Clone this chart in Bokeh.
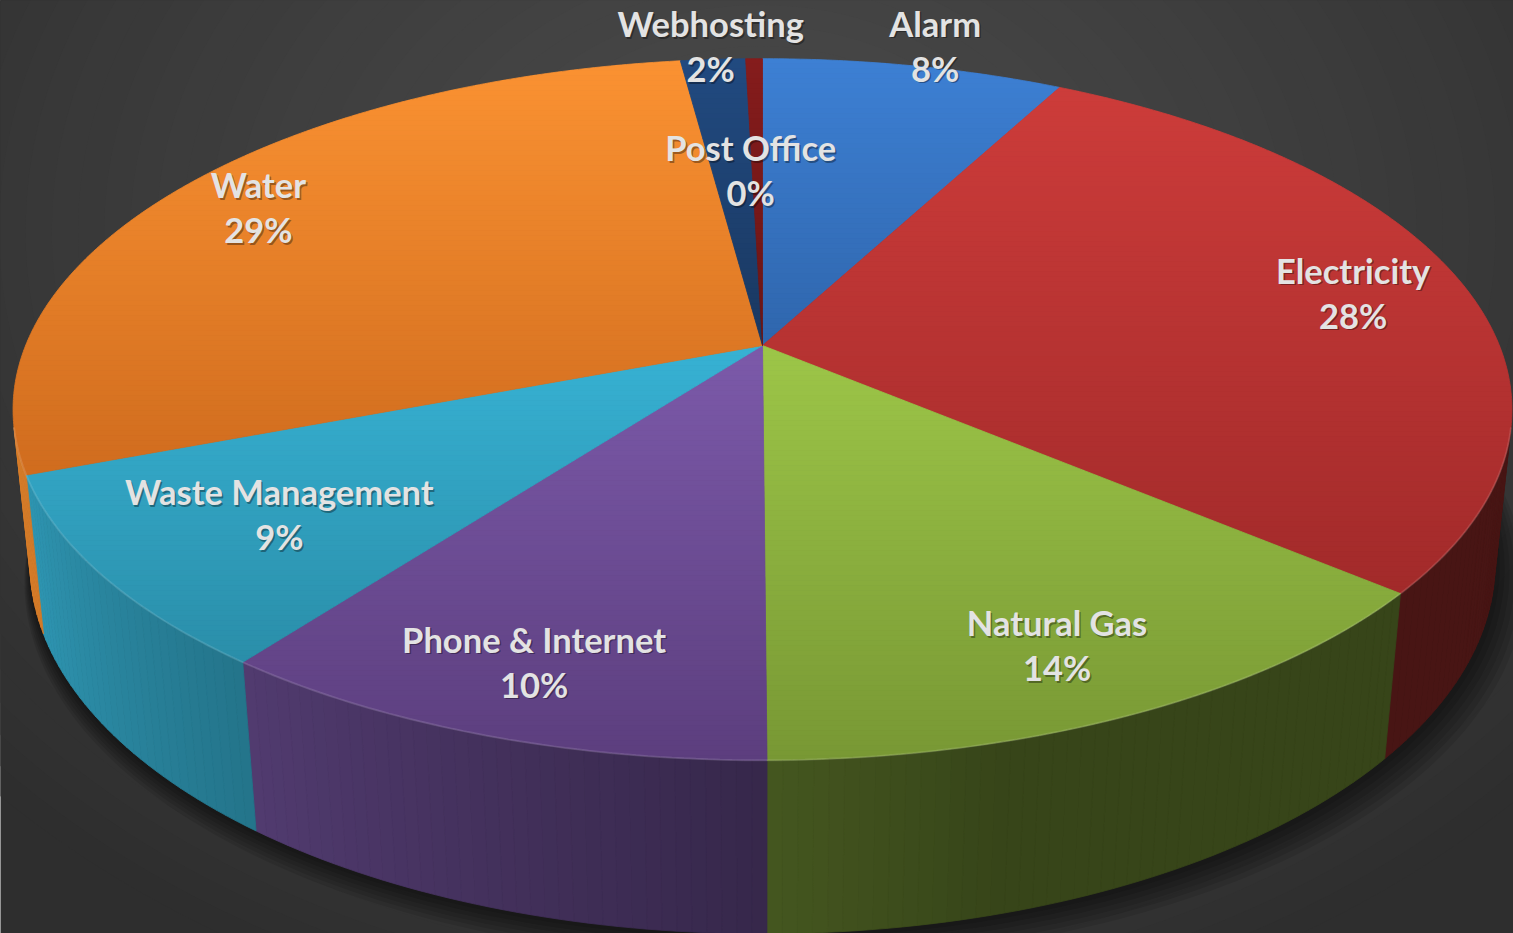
import math
import numpy as np
from bokeh.plotting import figure
from bokeh.models import Range1d
from bokeh.core.properties import value
from bokeh.embed import file_html
from bokeh.resources import INLINE

# ---------------- data ----------------
categories = ["Alarm", "Electricity", "Natural Gas", "Phone & Internet",
              "Waste Management", "Water", "Webhosting", "Post Office"]
shares = [7.75, 28.4, 13.75, 10.37, 8.89, 28.7, 1.67, 0.43]

# ---------------- styles ----------------
light_colors = ["#3d80d4", "#cd3c3a", "#9dc648", "#7c5aaa",
                "#37b2d4", "#fb9232", "#214a80", "#851c1c"]
dark_colors = ["#2f66ad", "#a22a2a", "#789834", "#5c3e7e",
               "#2a8ea9", "#d06c1e", "#1a3861", "#6a1515"]
label_radius = [1.09, 0.84, 0.835, 0.84, 0.755, 0.86, 1.055, 0.57]
label_turn = [0.9, 0.0, 0.7, 0.0, -0.3, 0.0, 0.0, -1.0]

total = sum(shares)
pct_labels = [f"{round(100 * s / total)}%" for s in shares]

# ---------------- perspective camera ----------------
F = 3588.0
L = 4.869
PHI = math.radians(27.4)
H = 0.237
CX, CY = 762.0, 345.0


def proj(theta_deg, r, z):
    t = np.radians(theta_deg)
    X = r * np.sin(t)
    D = -r * np.cos(t)
    up = -D * math.sin(PHI) + z * math.cos(PHI)
    depth = L - (D * math.cos(PHI) + z * math.sin(PHI))
    return CX + F * X / depth, CY - F * up / depth


def hex2rgb(h):
    return tuple(int(h[i:i + 2], 16) for i in (1, 3, 5))


def rgb2hex(c):
    return "#%02x%02x%02x" % tuple(int(max(0, min(255, round(v)))) for v in c)


def mix(a, b, t):
    return tuple(a[i] + (b[i] - a[i]) * t for i in range(3))


def clip_band(pts, y_lo, y_hi):
    def clip(pts, keep, yv):
        out = []
        n = len(pts)
        for i in range(n):
            cur = pts[i]
            prev = pts[i - 1]
            cin, pin = keep(cur), keep(prev)
            if cin:
                if not pin:
                    t = (yv - prev[1]) / (cur[1] - prev[1])
                    out.append((prev[0] + t * (cur[0] - prev[0]), yv))
                out.append(cur)
            elif pin:
                t = (yv - prev[1]) / (cur[1] - prev[1])
                out.append((prev[0] + t * (cur[0] - prev[0]), yv))
        return out
    pts = clip(pts, lambda q: q[1] >= y_lo, y_lo)
    if len(pts) < 3:
        return None
    pts = clip(pts, lambda q: q[1] <= y_hi, y_hi)
    return pts if len(pts) >= 3 else None


W, HH = 1513, 933
p = figure(width=W, height=HH, x_range=Range1d(0, W), y_range=Range1d(HH, 0),
           output_backend="svg", toolbar_location=None, min_border=0,
           x_axis_location=None, y_axis_location=None)
p.grid.visible = False
p.outline_line_color = None
p.background_fill_color = "#2e2e2e"
p.border_fill_color = "#2e2e2e"

# ---------------- background radial gradient ----------------
nlev = 40
bx, by, bw, bh, bc = [], [], [], [], []
for k in range(nlev):
    t = 1.0 - k / nlev
    g = 0x4a - (0x4a - 0x2e) * min(t, 1.0) ** 1.2
    bx.append(760)
    by.append(230)
    bw.append(2 * 1050 * t)
    bh.append(2 * 820 * t)
    bc.append(rgb2hex((g, g, g)))
p.ellipse(x=bx, y=by, width=bw, height=bh, fill_color=bc, line_color=None)

# ---------------- shadow ----------------
ring = np.linspace(0, 360, 361)
sx_b, sy_b = proj(ring, 1.0, -H)
mx, my = float(np.mean(sx_b)), float(np.mean(sy_b))
for k in range(7):
    f = 1.0 + 0.004 * k
    p.patch(list(mx + (sx_b - mx) * f + 2 * k), list(my + (sy_b - my) * f + 3 * k),
            fill_color="black", fill_alpha=0.10, line_color=None)

cum = np.concatenate([[0.0], np.cumsum(shares)]) / total * 360.0

# ---------------- side walls ----------------
tv = math.degrees(math.acos(-1.0 / (L * math.cos(PHI))))
vis_lo, vis_hi = tv, 360.0 - tv


def side_shade(th):
    return max(0.35, min(0.85, 0.41 + 0.0058 * (th - 175.0)))


qx, qy, qc = [], [], []
for i in range(len(shares)):
    a0, a1 = cum[i], cum[i + 1]
    lo, hi = max(a0, vis_lo), min(a1, vis_hi)
    if hi <= lo:
        continue
    n = max(1, int(math.ceil((hi - lo) / 1.0)))
    ths = np.linspace(lo, hi, n + 1)
    base = hex2rgb(light_colors[i])
    for j in range(n):
        t0, t1 = ths[j], ths[j + 1]
        x0, y0 = proj(t0, 1.0, 0.0)
        x1, y1 = proj(t1, 1.0, 0.0)
        x2, y2 = proj(t1, 1.0, -H)
        x3, y3 = proj(t0, 1.0, -H)
        s = side_shade(0.5 * (t0 + t1))
        c = rgb2hex(tuple(v * s for v in base))
        qx.append([x0, x1, x2, x3])
        qy.append([y0, y1, y2, y3])
        qc.append(c)
p.patches(xs=qx, ys=qy, fill_color=qc, line_color=qc, line_width=0.8)

# ---------------- top faces with vertical gradient ----------------
tx, ty, tc = [], [], []
band = 5.0
for i in range(len(shares)):
    a0, a1 = cum[i], cum[i + 1]
    n = max(2, int(math.ceil((a1 - a0) / 0.5)))
    ths = np.linspace(a0, a1, n + 1)
    ax, ay = proj(ths, 1.0, 0.0)
    pts = [(CX, CY)] + list(zip(ax, ay))
    ymin = min(q[1] for q in pts)
    ymax = max(q[1] for q in pts)
    lc, dc = hex2rgb(light_colors[i]), hex2rgb(dark_colors[i])
    yb = math.floor(ymin)
    while yb < ymax:
        piece = clip_band(pts, yb, yb + band)
        if piece:
            tt = ((yb + band / 2) - ymin) / max(1.0, ymax - ymin)
            c = rgb2hex(mix(lc, dc, max(0.0, min(1.0, tt))))
            tx.append([q[0] for q in piece])
            ty.append([q[1] for q in piece])
            tc.append(c)
        yb += band
p.patches(xs=tx, ys=ty, fill_color=tc, line_color=tc, line_width=0.8)

# rim highlight
rth = np.linspace(vis_lo, vis_hi, 200)
rx, ry = proj(rth, 1.0, 0.0)
p.line(list(rx), list(ry), line_color="white", line_alpha=0.13, line_width=2)

# ---------------- labels ----------------
lx, ly = [], []
for i in range(len(shares)):
    mid = 0.5 * (cum[i] + cum[i + 1]) + label_turn[i]
    x, y = proj(mid, label_radius[i], 0.0)
    lx.append(float(x))
    ly.append(float(y))

name_y = [y - 22.5 for y in ly]
pct_y = [y + 22.5 for y in ly]
font = value("Lato")
for dx, dy, col, alpha in [(1.5, 1.5, "black", 0.35), (0, 0, "#e3e3e3", 1.0)]:
    p.text(x=[x + dx for x in lx], y=[y + dy for y in name_y], text=categories,
           text_font=font, text_font_style="bold", text_font_size="34.5px",
           text_color=col, text_alpha=alpha, text_align="center", text_baseline="middle")
    p.text(x=[x + dx for x in lx], y=[y + dy for y in pct_y], text=pct_labels,
           text_font=font, text_font_style="bold", text_font_size="34.5px",
           text_color=col, text_alpha=alpha, text_align="center", text_baseline="middle")

open("out.html", "w").write(file_html(p, INLINE))
